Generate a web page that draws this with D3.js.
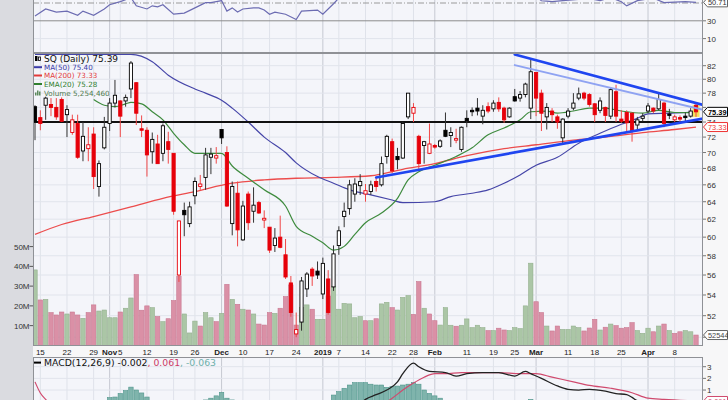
<!DOCTYPE html>
<html><head><meta charset="utf-8">
<script src="https://cdn.jsdelivr.net/npm/d3@7/dist/d3.min.js"></script>
<style>html,body{margin:0;padding:0;background:#fff}svg{display:block}</style>
</head><body>
<svg id="chart" width="728" height="400"></svg>
<script>
// ---------------- DATA ----------------
const dates = [
"2018-10-12","2018-10-15","2018-10-16","2018-10-17","2018-10-18","2018-10-19","2018-10-22","2018-10-23","2018-10-24","2018-10-25",
"2018-10-26","2018-10-29","2018-10-30","2018-10-31","2018-11-01","2018-11-02","2018-11-05","2018-11-06","2018-11-07","2018-11-08",
"2018-11-09","2018-11-12","2018-11-13","2018-11-14","2018-11-15","2018-11-16","2018-11-19","2018-11-20","2018-11-21","2018-11-23",
"2018-11-26","2018-11-27","2018-11-28","2018-11-29","2018-11-30","2018-12-03","2018-12-04","2018-12-06","2018-12-07","2018-12-10",
"2018-12-11","2018-12-12","2018-12-13","2018-12-14","2018-12-17","2018-12-18","2018-12-19","2018-12-20","2018-12-21","2018-12-24",
"2018-12-26","2018-12-27","2018-12-28","2018-12-31","2019-01-02","2019-01-03","2019-01-04","2019-01-07","2019-01-08","2019-01-09",
"2019-01-10","2019-01-11","2019-01-14","2019-01-15","2019-01-16","2019-01-17","2019-01-18","2019-01-22","2019-01-23","2019-01-24",
"2019-01-25","2019-01-28","2019-01-29","2019-01-30","2019-01-31","2019-02-01","2019-02-04","2019-02-05","2019-02-06","2019-02-07",
"2019-02-08","2019-02-11","2019-02-12","2019-02-13","2019-02-14","2019-02-15","2019-02-19","2019-02-20","2019-02-21","2019-02-22",
"2019-02-25","2019-02-26","2019-02-27","2019-02-28","2019-03-01","2019-03-04","2019-03-05","2019-03-06","2019-03-07","2019-03-08",
"2019-03-11","2019-03-12","2019-03-13","2019-03-14","2019-03-15","2019-03-18","2019-03-19","2019-03-20","2019-03-21","2019-03-22",
"2019-03-25","2019-03-26","2019-03-27","2019-03-28","2019-03-29","2019-04-01","2019-04-02","2019-04-03","2019-04-04","2019-04-05",
"2019-04-08","2019-04-09","2019-04-10","2019-04-11","2019-04-12"];

const open = [76.1,74.6,76.3,76.4,76.0,77.1,75.0,72.6,73.8,70.2,
70.5,72.4,65.8,70.6,73.8,76.6,76.9,76.9,78.6,79.5,
73.1,72.9,70.1,71.1,69.9,71.4,69.9,56.0,63.0,61.5,
64.7,65.8,66.9,69.4,69.3,73.0,70.0,61.5,65.0,59.7,
64.9,62.9,63.9,61.9,61.1,59.1,60.0,58.1,55.2,50.3,
51.4,54.6,56.6,56.4,54.1,55.6,54.8,59.1,62.3,63.2,
64.9,65.9,64.9,65.2,66.4,66.0,69.5,71.4,69.5,69.3,
74.7,75.2,72.1,70.9,69.9,70.9,70.8,72.9,72.2,71.6,
70.4,74.5,75.6,75.9,74.8,76.1,75.8,76.7,75.9,74.7,
77.5,77.3,77.8,75.9,81.0,78.0,74.7,75.5,74.7,71.9,
74.8,75.9,77.3,78.0,77.8,76.5,75.6,76.0,74.8,78.2,
74.4,75.3,75.2,73.6,74.5,75.5,75.9,75.8,76.6,75.1,
74.3,74.6,74.8,74.8,76.3];
const high = [76.3,75.6,77.5,77.3,77.3,77.4,76.3,75.0,75.0,74.0,
73.3,73.3,69.0,74.7,77.3,79.9,77.0,77.8,82.7,79.6,
74.9,73.3,72.6,72.3,73.8,72.7,69.9,61.8,63.9,64.0,
66.9,67.2,70.6,70.6,70.7,73.0,70.8,66.4,66.4,64.1,
65.2,65.7,64.1,63.0,61.1,61.0,62.4,59.8,55.9,52.3,
55.8,56.3,56.8,57.4,57.8,56.5,59.1,61.2,63.9,66.6,
66.8,67.3,66.1,66.5,67.0,69.5,72.3,71.8,70.6,74.0,
78.0,76.6,72.3,71.5,73.8,71.1,71.7,75.3,73.3,73.1,
73.4,75.6,76.0,77.3,76.3,76.7,77.0,77.4,76.1,76.0,
78.6,78.3,79.5,82.9,81.0,78.5,76.6,75.9,75.0,74.5,
75.9,78.0,78.8,78.2,78.0,76.6,77.4,76.1,78.8,79.2,
75.6,75.6,75.3,74.7,75.2,76.6,76.0,77.9,76.8,75.8,
75.0,74.9,75.3,75.9,76.5];
const low = [71.6,72.9,74.3,74.8,74.3,74.0,72.0,72.3,69.2,68.9,
68.9,65.5,64.6,70.4,72.8,76.0,72.0,76.1,77.3,73.6,
72.0,67.0,68.6,68.6,68.9,68.6,62.5,55.3,60.1,61.1,
63.7,65.4,65.4,67.3,68.6,71.1,63.4,60.2,59.0,59.6,
60.8,61.6,62.6,61.0,58.3,58.4,58.8,55.6,51.9,50.0,
50.6,53.8,54.9,55.6,53.6,52.1,54.4,58.1,61.1,62.5,
64.0,64.8,64.0,64.8,65.2,65.8,68.6,67.4,67.9,69.2,
74.4,74.0,67.9,68.6,69.8,70.5,70.6,72.0,70.7,71.2,
70.1,73.3,74.8,74.9,73.7,75.2,75.4,75.4,73.9,74.6,
76.8,76.8,77.4,74.4,74.8,72.8,73.0,74.0,73.1,71.2,
74.5,75.6,77.0,77.0,76.1,74.0,75.2,74.0,74.4,74.0,
73.9,72.6,71.4,72.8,74.1,75.2,75.2,75.6,73.3,74.4,
74.0,74.0,74.0,74.6,74.7];
const close = [74.0,73.8,77.3,76.0,74.7,74.1,75.7,74.3,69.4,72.1,
71.0,67.0,68.6,73.3,76.6,77.7,74.8,77.4,82.4,75.2,
72.9,69.7,71.7,68.6,73.5,70.4,62.9,61.8,62.5,63.4,
66.4,66.1,69.7,69.8,69.6,71.9,63.5,65.8,60.8,63.5,
61.6,63.6,62.7,62.1,58.6,59.9,58.9,55.8,52.3,50.7,
55.4,56.1,55.9,56.0,57.2,52.3,58.2,60.7,62.9,66.0,
66.1,66.4,65.3,66.0,65.8,68.6,72.1,67.7,69.1,73.8,
78.0,76.0,68.6,71.4,71.1,70.7,71.5,72.1,72.6,71.8,
73.3,74.2,75.4,75.5,75.6,75.5,76.6,75.8,74.3,75.9,
76.9,77.8,79.3,81.1,77.3,75.2,76.0,75.0,74.0,74.4,
75.5,76.6,77.9,77.3,76.4,75.0,76.9,74.9,78.5,74.8,
74.1,73.9,72.8,74.3,74.8,76.2,75.5,77.1,73.8,74.9,
74.7,74.4,74.6,75.5,75.39];
// volume in millions of shares
const volume = [38.2,23.0,23.3,16.6,15.4,16.9,15.9,16.9,15.4,13.7,
16.6,20.5,17.4,17.9,14.0,14.0,16.9,18.8,24.0,35.8,
17.8,20.0,19.1,14.6,12.0,13.5,22.7,35.0,15.9,6.3,
12.3,9.8,16.6,14.0,12.0,16.2,30.9,23.3,20.8,18.3,
17.9,15.9,10.8,10.3,16.6,16.2,18.8,24.7,30.6,10.3,
19.1,20.5,18.3,13.2,13.2,25.0,30.0,18.3,21.3,21.0,
14.0,14.6,12.5,12.5,13.5,21.0,21.8,19.1,17.9,24.3,
25.2,15.7,32.3,18.8,15.9,12.5,10.3,19.1,10.2,9.7,
10.2,13.4,9.0,10.2,9.0,7.5,7.5,8.7,7.8,7.5,
9.0,8.5,20.0,41.6,22.1,16.6,9.8,7.3,9.8,8.1,
8.1,9.8,9.0,7.3,8.8,13.2,7.8,9.2,10.8,10.0,
8.7,9.0,11.5,7.5,6.1,8.7,6.9,9.8,10.8,7.5,
6.1,6.9,7.5,6.9,5.25];

const ma50 = [["2018-10-12",83.7],["2018-11-07",83.7],["2018-11-13",82.6],["2018-11-16",80.6],["2018-11-26",78.6],["2018-11-28",78.0],
["2018-12-03",77.0],["2018-12-06",75.9],["2018-12-11",74.0],["2018-12-14",72.0],["2018-12-20",70.0],["2018-12-24",68.7],["2018-12-31",67.0],
["2019-01-04",66.2],["2019-01-09",65.4],["2019-01-15",64.8],["2019-01-22",64.2],["2019-01-24",63.9],["2019-02-01",64.0],["2019-02-06",64.6],
["2019-02-12",65.0],["2019-02-15",65.4],["2019-02-21",66.2],["2019-02-26",67.2],["2019-03-01",68.4],["2019-03-07",69.4],["2019-03-13",71.2],
["2019-03-19",72.5],["2019-03-25",73.7],["2019-03-28",74.5],["2019-04-01",75.1],["2019-04-05",75.2],["2019-04-10",75.3],["2019-04-12",75.40]];
const ma200 = [["2018-10-12",60.3],["2018-10-19",61.4],["2018-10-29",62.3],["2018-11-07",63.4],["2018-11-15",64.4],["2018-11-26",65.2],
["2018-12-06",66.2],["2018-12-14",66.6],["2018-12-24",66.8],["2019-01-04",66.9],["2019-01-15",67.1],["2019-01-24",67.9],["2019-02-01",68.6],
["2019-02-11",69.6],["2019-02-21",70.5],["2019-03-01",71.0],["2019-03-12",71.6],["2019-03-20",72.0],["2019-03-29",72.6],["2019-04-08",73.0],["2019-04-12",73.33]];
const ema20 = [["2018-10-29",77.1],["2018-10-31",76.3],["2018-11-02",76.1],["2018-11-06",76.5],["2018-11-07",76.7],["2018-11-09",76.5],
["2018-11-13",75.4],["2018-11-15",74.3],["2018-11-19",72.5],["2018-11-21",71.0],["2018-11-26",69.9],["2018-12-03",69.9],["2018-12-06",68.3],
["2018-12-11",66.8],["2018-12-14",65.4],["2018-12-20",63.5],["2018-12-24",61.2],["2018-12-28",60.1],["2019-01-02",59.4],["2019-01-04",58.6],
["2019-01-08",59.0],["2019-01-10",60.3],["2019-01-14",61.6],["2019-01-17",62.7],["2019-01-23",64.4],["2019-01-25",66.6],["2019-01-29",67.6],
["2019-02-01",68.4],["2019-02-07",69.5],["2019-02-12",70.6],["2019-02-15",72.3],["2019-02-21",73.2],["2019-02-26",74.3],["2019-02-28",75.4],
["2019-03-05",75.5],["2019-03-07",75.2],["2019-03-12",75.5],["2019-03-15",75.9],["2019-03-20",75.9],["2019-03-25",75.5],["2019-03-29",75.2],
["2019-04-03",75.6],["2019-04-08",75.3],["2019-04-12",75.28]];
const rsi = [["2018-10-12",35.4],["2018-10-16",43.3],["2018-10-18",39.8],["2018-10-22",40.9],["2018-10-24",36.2],["2018-10-25",40.9],
["2018-10-29",36.2],["2018-10-31",43.3],["2018-11-01",48.0],["2018-11-05",51.5],["2018-11-07",56.0],["2018-11-08",46.8],["2018-11-12",43.3],
["2018-11-13",46.8],["2018-11-14",45.6],["2018-11-15",48.0],["2018-11-19",37.4],["2018-11-21",38.6],["2018-11-26",44.5],["2018-11-28",50.4],
["2018-11-29",50.4],["2018-12-03",52.7],["2018-12-04",40.9],["2018-12-06",44.5],["2018-12-07",39.8],["2018-12-10",43.3],["2018-12-12",44.5],
["2018-12-13",44.5],["2018-12-14",42.1],["2018-12-17",37.4],["2018-12-18",39.8],["2018-12-20",37.4],["2018-12-24",31.5],["2018-12-26",40.9],
["2018-12-31",42.1],["2019-01-02",37.4],["2019-01-04",49.2],["2019-01-07",55.5],["2019-01-10",62],["2019-01-18",64],["2019-01-25",66],
["2019-02-05",60],["2019-02-15",62],["2019-02-28",66],["2019-03-01",57],["2019-03-04",52.7],["2019-03-06",51.5],["2019-03-08",52.7],
["2019-03-15",55.0],["2019-03-19",52.7],["2019-03-21",56],["2019-03-25",51.5],["2019-03-26",46.8],["2019-03-28",52.7],["2019-04-02",55.5],
["2019-04-04",50.4],["2019-04-10",51.5],["2019-04-12",50.71]];
const macdLine = [["2018-10-12",-0.3],["2018-12-24",-3.0],["2019-01-11",-0.2],["2019-01-14",0.2],["2019-01-16",0.6],["2019-01-18",1.0],
["2019-01-23",1.7],["2019-01-24",2.4],["2019-01-28",3.3],["2019-01-29",3.0],["2019-01-31",2.6],["2019-02-05",2.5],["2019-02-07",2.2],
["2019-02-11",2.4],["2019-02-14",2.5],["2019-02-20",2.5],["2019-02-25",2.2],["2019-02-27",2.6],["2019-02-28",2.4],["2019-03-04",2.0],
["2019-03-07",1.35],["2019-03-11",1.06],["2019-03-13",1.0],["2019-03-15",1.06],["2019-03-20",0.9],["2019-03-22",0.7],["2019-03-26",0.6],
["2019-03-27",0.37],["2019-03-28",0.1],["2019-04-03",-0.1],["2019-04-12",-0.002]];
const signalLine = [["2018-10-12",1.7],["2018-10-15",0.75],["2018-10-16",0.2],["2018-10-18",-0.6],["2018-12-24",-2.6],["2019-01-14",-1.0],
["2019-01-22",0.3],["2019-01-24",1.0],["2019-01-28",1.6],["2019-01-30",2.1],["2019-02-01",2.4],["2019-02-05",2.4],["2019-02-08",2.5],
["2019-02-20",2.5],["2019-02-26",2.4],["2019-03-01",2.4],["2019-03-06",2.1],["2019-03-12",1.7],["2019-03-15",1.4],["2019-03-21",1.15],
["2019-03-27",0.77],["2019-04-01",0.3],["2019-04-04",0.2],["2019-04-12",0.061]];
const histogram = [["2018-11-01",0.35],["2018-11-02",0.4],["2018-11-05",0.7],["2018-11-06",0.95],["2018-11-07",1.25],["2018-11-08",1.0],
["2018-11-09",0.75],["2018-11-12",0.4],["2018-11-13",0.1],["2018-11-28",0.15],["2018-11-29",0.3],["2018-11-30",0.5],["2018-12-03",0.8],
["2018-12-04",0.3],["2018-12-06",0.15],["2019-01-04",0.57],["2019-01-07",0.86],["2019-01-08",1.15],["2019-01-09",1.43],["2019-01-10",1.63],
["2019-01-11",1.63],["2019-01-14",1.63],["2019-01-15",1.5],["2019-01-16",1.43],["2019-01-17",1.43],["2019-01-18",1.23],["2019-01-22",1.29],
["2019-01-23",1.34],["2019-01-24",1.43],["2019-01-25",1.5],["2019-01-28",1.63],["2019-01-29",1.5],["2019-01-30",1.0],["2019-01-31",0.71],
["2019-02-01",0.5],["2019-02-04",0.3],["2019-02-05",0.1],["2019-02-28",0.2]];

const supportLevel = 74.0;
const trendlines = [
  {from:["2019-01-16",66.9], to:["2019-04-12",74.3], color:"#1f45f0", width:2.6},
  {from:["2019-02-25",83.7], to:["2019-04-12",76.6], color:"#1f45f0", width:2.6},
  {from:["2019-02-25",82.1], to:["2019-04-12",75.9], color:"#8fa3f2", width:1.8}
];
const priceTicks = [50,52,54,56,58,60,62,64,66,68,70,72,74,76,78,80,82];
const hiddenPriceLabels = [50,76];   // hidden behind the value boxes in the reference
const volumeTicks = [10,20,30,40,50];
const rsiTicks = [10,30];
const macdTicks = [1,2,3];
const xLabels = [["2018-10-15","15",0],["2018-10-22","22",0],["2018-10-29","29",0],["2018-11-01","Nov",1],["2018-11-05","5",0],
["2018-11-12","12",0],["2018-11-19","19",0],["2018-11-26","26",0],["2018-12-03","Dec",1],["2018-12-10","10",0],["2018-12-17","17",0],
["2018-12-24","24",0],["2019-01-02","2019",1],["2019-01-07","7",0],["2019-01-14","14",0],["2019-01-22","22",0],["2019-01-28","28",0],
["2019-02-01","Feb",1],["2019-02-11","11",0],["2019-02-19","19",0],["2019-02-25","25",0],["2019-03-01","Mar",1],["2019-03-11","11",0],
["2019-03-18","18",0],["2019-03-25","25",0],["2019-04-01","Apr",1],["2019-04-08","8",0]];

// ---------------- DRAWING ----------------
const FA = "'Liberation Sans', Arial, sans-serif";
const FL = "'DejaVu Sans', Verdana, sans-serif";
const L = 33, R = 703;
const svg = d3.select('#chart');
const x = d3.scalePoint().domain(dates).range([35, 696]);
const yP = d3.scaleLog().domain([52, 82]).range([315.7, 65.7]);
const yV = d3.scaleLinear().domain([0, 50]).range([345.4, 246.6]);
const yR = d3.scaleLinear().domain([10, 50]).range([38.6, 3.0]);
const yM = d3.scaleLinear().domain([0, 3]).range([401.7, 366.7]);

svg.append('rect').attr('width',728).attr('height',400).attr('fill','#f7f7f8');
svg.append('rect').attr('width',L).attr('height',400).attr('fill','#dadbe0');

const panels = {rsi:[-10,53], main:[53,346], macd:[357,420]};
const defs = svg.append('defs');
Object.entries(panels).forEach(([k,[a,b]])=>{
  defs.append('clipPath').attr('id','clip-'+k).append('rect').attr('x',L).attr('y',a).attr('width',R-L).attr('height',b-a);
  svg.append('rect').attr('x',L).attr('y',a).attr('width',R-L).attr('height',b-a).attr('fill','#f4f5fa');
});
const g = {};
Object.keys(panels).forEach(k=>{ g[k] = svg.append('g').attr('clip-path',`url(#clip-${k})`); });

// vertical grid
Object.entries(panels).forEach(([k,[a,b]])=>{
  g[k].selectAll('line.vg').data(xLabels).join('line')
    .attr('x1',d=>x(d[0])).attr('x2',d=>x(d[0])).attr('y1',a).attr('y2',b)
    .attr('stroke',d=>d[2]?'#c6c9d2':'#dfe2ea').attr('stroke-width',1);
});
// horizontal grid main
g.main.selectAll('line.hg').data(priceTicks).join('line')
  .attr('x1',L).attr('x2',R).attr('y1',d=>yP(d)).attr('y2',d=>yP(d)).attr('stroke','#e1e4ec');
// rsi grid
g.rsi.append('line').attr('x1',L).attr('x2',R).attr('y1',yR(10)).attr('y2',yR(10)).attr('stroke','#e1e4ec');
g.rsi.append('line').attr('x1',L).attr('x2',R).attr('y1',yR(30)).attr('y2',yR(30)).attr('stroke','#8c8c8c');
g.rsi.append('line').attr('x1',L).attr('x2',R).attr('y1',yR(50)).attr('y2',yR(50)).attr('stroke','#9a9a9a').attr('stroke-dasharray','6,2,1,2');
// macd grid
g.macd.selectAll('line.mg').data(macdTicks).join('line')
  .attr('x1',L).attr('x2',R).attr('y1',d=>yM(d)).attr('y2',d=>yM(d)).attr('stroke','#e1e4ec');

// volume bars
const upFlags = close.map((c,i)=> i===0 ? true : c >= close[i-1]);
g.main.selectAll('rect.vol').data(dates).join('rect')
  .attr('x',d=>x(d)-2.2).attr('width',4.4)
  .attr('y',(d,i)=>yV(volume[i])).attr('height',(d,i)=>yV(0)-yV(volume[i]))
  .attr('fill',(d,i)=>upFlags[i]?'#abc6a6':'#da90a6')
  .attr('stroke',(d,i)=>upFlags[i]?'#93b08e':'#c97790').attr('stroke-width',0.6);

// moving averages
const line = d3.line().x(d=>x(d[0])).y(d=>yP(d[1])).curve(d3.curveMonotoneX);
g.main.append('path').attr('d',line(ma200)).attr('fill','none').attr('stroke','#ec4c4c').attr('stroke-width',1.3);
g.main.append('path').attr('d',line(ma50)).attr('fill','none').attr('stroke','#4545a8').attr('stroke-width',1.2);
g.main.append('path').attr('d',line(ema20)).attr('fill','none').attr('stroke','#3e8b3e').attr('stroke-width',1.2);

// support line
g.main.append('line').attr('x1',L).attr('x2',R).attr('y1',yP(supportLevel)).attr('y2',yP(supportLevel))
  .attr('stroke','#111').attr('stroke-width',2);

// highlight behind the latest bar
const lastI = dates.length-1;
g.main.append('rect').attr('x',x(dates[lastI])-3.5).attr('width',7)
  .attr('y',yP(open[lastI])).attr('height',yP(low[lastI])-yP(open[lastI])).attr('fill','#f3e45a');

// candles
const cg = g.main.append('g');
dates.forEach((d,i)=>{
  const up = upFlags[i];
  const col = up ? '#000' : '#e6000a';
  const cx = x(d);
  cg.append('line').attr('x1',cx).attr('x2',cx).attr('y1',yP(high[i])).attr('y2',yP(low[i]))
    .attr('stroke', up ? '#333' : '#f04848').attr('stroke-width',1);
  const top = yP(Math.max(open[i],close[i])), bot = yP(Math.min(open[i],close[i]));
  const filled = close[i] < open[i];
  cg.append('rect').attr('x',cx-1.6).attr('width',3.2).attr('y',top).attr('height',Math.max(0.8,bot-top))
    .attr('fill', filled ? col : '#ffffff').attr('stroke',col).attr('stroke-width',0.9);
});

// trendlines extended to right edge
trendlines.forEach(t=>{
  const x1=x(t.from[0]), y1=yP(t.from[1]), x2=x(t.to[0]), y2=yP(t.to[1]);
  const ye = y1 + (y2-y1)*(R-x1)/(x2-x1);
  g.main.append('line').attr('x1',x1).attr('y1',y1).attr('x2',R).attr('y2',ye)
    .attr('stroke',t.color).attr('stroke-width',t.width).attr('stroke-linecap','round');
});

// RSI
const rline = d3.line().x(d=>x(d[0])).y(d=>yR(d[1]));
g.rsi.append('path').attr('d',rline(rsi)).attr('fill','none').attr('stroke','#6c6cb2').attr('stroke-width',1.2);

// MACD
g.macd.selectAll('rect.h').data(histogram).join('rect')
  .attr('x',d=>x(d[0])-2.2).attr('width',4.4).attr('y',d=>yM(d[1])).attr('height',d=>yM(0)-yM(d[1]))
  .attr('fill','#7fb4ac').attr('stroke','#4f958b').attr('stroke-width',0.6);
const mline = d3.line().x(d=>x(d[0])).y(d=>yM(d[1])).curve(d3.curveMonotoneX);
g.macd.append('path').attr('d',mline(signalLine)).attr('fill','none').attr('stroke','#d04a6e').attr('stroke-width',1.2);
g.macd.append('path').attr('d',mline(macdLine)).attr('fill','none').attr('stroke','#222').attr('stroke-width',1.3);

// panel borders
Object.values(panels).forEach(([a,b])=>{
  svg.append('rect').attr('x',L+0.5).attr('y',a+0.5).attr('width',R-L-1).attr('height',b-a-1)
    .attr('fill','none').attr('stroke','#8f9196').attr('stroke-width',1);
});

// right axis labels
const ra = svg.append('g').attr('font-family',FA).attr('font-size',8).attr('fill','#333');
function tick(yy, label, show){
  ra.append('line').attr('x1',R).attr('x2',R+3).attr('y1',yy).attr('y2',yy).attr('stroke','#777');
  if(show) ra.append('text').attr('x',R+4).attr('y',yy+3).text(label);
}
priceTicks.forEach(p=>tick(yP(p),p,!hiddenPriceLabels.includes(p)));
rsiTicks.forEach(v=>tick(yR(v),v,true));
macdTicks.forEach(v=>tick(yM(v),v,true));

// left volume axis
const la = svg.append('g').attr('font-family',FA).attr('font-size',8).attr('fill','#333');
volumeTicks.forEach(v=>{
  la.append('text').attr('x',29.5).attr('y',yV(v)+3).attr('text-anchor','end').text(v+'M');
  la.append('line').attr('x1',29.5).attr('x2',33).attr('y1',yV(v)).attr('y2',yV(v)).attr('stroke','#555');
});
// x labels
svg.append('g').selectAll('text').data(xLabels).join('text')
  .attr('x',d=>x(d[0])).attr('y',355).attr('text-anchor','middle')
  .attr('font-family',FA).attr('font-size',8).attr('font-weight',d=>d[2]?'bold':'normal').attr('fill','#222')
  .text(d=>d[1]);

// value boxes on the right axis
const boxes = [
  {y:yR(50.71), t:'50.71', s:'#666', f:'#333'},
  {y:yP(close[lastI]), t:'75.39', s:'#000', f:'#000', b:true},
  {y:yP(73.33), t:'73.33', s:'#e33', f:'#e33'},
  {y:yV(volume[lastI]), t:'52544', s:'#666', f:'#444'},
  {y:yM(0.061), t:'0.061', s:'#d04a6e', f:'#d04a6e'}
];
boxes.forEach(b=>{
  const gg = svg.append('g');
  gg.append('path').attr('d',`M${R+0.5},${b.y} L${R+4.5},${b.y-4.5} L727.5,${b.y-4.5} L727.5,${b.y+4.5} L${R+4.5},${b.y+4.5} Z`)
    .attr('fill','#fff').attr('stroke',b.s).attr('stroke-width',1);
  gg.append('text').attr('x',R+5).attr('y',b.y+2.8).attr('font-family',FA).attr('font-size',7.4)
    .attr('font-weight',b.b?'bold':'normal').attr('fill',b.f).text(b.t);
});

// legend
const lg = svg.append('g').attr('font-family',FL);
lg.append('rect').attr('x',35).attr('y',56).attr('width',2.5).attr('height',5).attr('fill','#000');
lg.append('rect').attr('x',38.5).attr('y',57).attr('width',2).attr('height',3.5).attr('fill','none').attr('stroke','#000').attr('stroke-width',0.8);
lg.append('text').attr('x',44).attr('y',61.5).attr('font-size',9).attr('fill','#111').text('SQ (Daily) 75.39');
const items = [["MA(50) 75.40","#3a3aa8",70],["MA(200) 73.33","#e23a3a",78.3],["EMA(20) 75.28","#2f7f2f",86.8]];
items.forEach(([t,c,yb])=>{
  lg.append('line').attr('x1',34).attr('x2',42).attr('y1',yb-2.8).attr('y2',yb-2.8).attr('stroke',c).attr('stroke-width',2);
  lg.append('text').attr('x',44).attr('y',yb).attr('font-size',7.2).attr('fill',c).text(t);
});
[[35,3],[37,5],[39,4]].forEach(([bx,h])=>lg.append('rect').attr('x',bx).attr('y',95.5-h).attr('width',1.5).attr('height',h).attr('fill','#5c8a5c'));
lg.append('text').attr('x',44).attr('y',95.6).attr('font-size',7.2).attr('fill','#4f7a4f').text('Volume 5,254,460');

// MACD legend
lg.append('line').attr('x1',34).attr('x2',41).attr('y1',362.6).attr('y2',362.6).attr('stroke','#000').attr('stroke-width',2);
const mt = lg.append('text').attr('x',44).attr('y',366.2).attr('font-size',9.3).attr('fill','#111');
mt.append('tspan').text('MACD(12,26,9) -0.002');
mt.append('tspan').attr('fill','#cc3a66').text(', 0.061');
mt.append('tspan').attr('fill','#6fb0aa').text(', -0.063');
</script>
</body></html>
